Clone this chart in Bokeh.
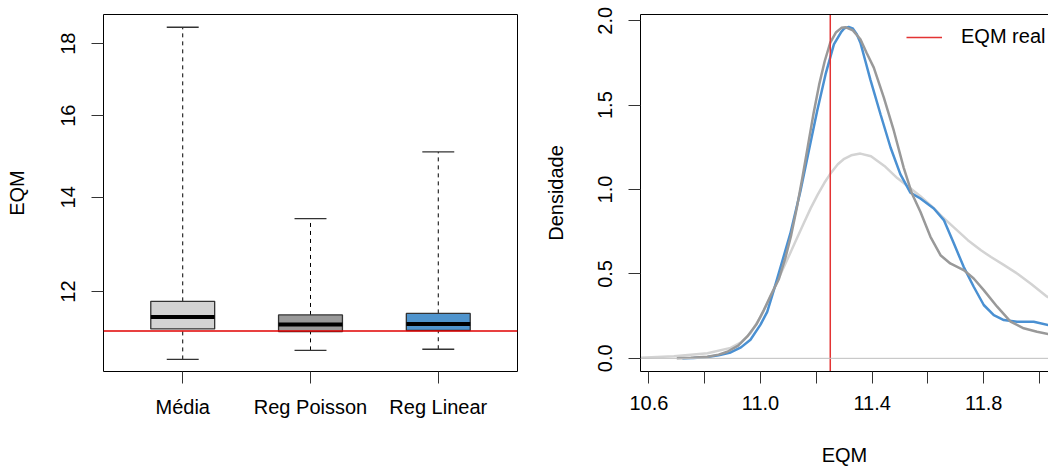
from bokeh.plotting import figure
from bokeh.layouts import row
from bokeh.models import (ColumnDataSource, FixedTicker, Span, LinearAxis, Legend,
                          LegendItem, Range1d, NumeralTickFormatter)
from bokeh.embed import file_html
from bokeh.resources import INLINE

# ---------------- data ----------------
categories = ["Média", "Reg Poisson", "Reg Linear"]
box_colors = ["#D3D3D3", "#9A9A9A", "#4F94CD"]
whisker_low = [10.74, 10.90, 10.92]
q1 = [11.29, 11.24, 11.26]
median = [11.51, 11.37, 11.38]
q3 = [11.81, 11.55, 11.58]
whisker_high = [18.49, 13.52, 15.08]
eqm_real = 11.25

left_yticks = [12, 14, 16, 18]
right_xticks = [10.6, 10.8, 11.0, 11.2, 11.4, 11.6, 11.8, 12.0]
right_xlabels = ["10.6", "", "11.0", "", "11.4", "", "11.8", ""]
right_yticks = [0, 0.5, 1, 1.5, 2]

dens_media_x = [10.45, 10.57, 10.69, 10.81, 10.893, 10.93, 10.964, 11.0, 11.024, 11.062,
                11.096, 11.122, 11.155, 11.18, 11.205, 11.229, 11.253, 11.277, 11.30, 11.325,
                11.358, 11.396, 11.444, 11.49, 11.528, 11.573, 11.621, 11.647, 11.69, 11.743,
                11.79, 11.826, 11.87, 11.922, 11.97, 12.027, 12.08]
dens_media_y = [0.001, 0.004, 0.012, 0.03, 0.062, 0.095, 0.148, 0.245, 0.325, 0.463,
                0.585, 0.68, 0.80, 0.89, 0.97, 1.04, 1.10, 1.15, 1.182, 1.203,
                1.213, 1.197, 1.14, 1.068, 1.02, 0.96, 0.89, 0.845, 0.78, 0.70,
                0.64, 0.60, 0.555, 0.50, 0.44, 0.365, 0.32]

dens_linear_x = [10.72, 10.76, 10.81, 10.85, 10.893, 10.93, 10.964, 11.0, 11.024, 11.047,
                 11.07, 11.107, 11.143, 11.173, 11.203, 11.233, 11.263, 11.29, 11.30, 11.316,
                 11.33, 11.345, 11.358, 11.376, 11.394, 11.43, 11.466, 11.501, 11.537, 11.573,
                 11.621, 11.657, 11.693, 11.728, 11.764, 11.80, 11.836, 11.872, 11.919, 11.979,
                 12.032, 12.08]
dens_linear_y = [0.0, 0.002, 0.008, 0.018, 0.035, 0.065, 0.11, 0.2, 0.275, 0.40,
                 0.53, 0.74, 0.99, 1.229, 1.465, 1.682, 1.86, 1.935, 1.955, 1.963,
                 1.955, 1.92, 1.87, 1.76, 1.65, 1.446, 1.249, 1.091, 0.982, 0.947,
                 0.888, 0.819, 0.68, 0.542, 0.424, 0.316, 0.256, 0.227, 0.217, 0.217,
                 0.197, 0.18]

dens_poisson_x = [10.70, 10.75, 10.81, 10.85, 10.881, 10.92, 10.952, 10.985, 11.012, 11.036,
                  11.066, 11.09, 11.11, 11.13, 11.15, 11.17, 11.19, 11.21, 11.23, 11.25,
                  11.27, 11.29, 11.304, 11.331, 11.358, 11.38, 11.406, 11.442, 11.478, 11.513,
                  11.543, 11.573, 11.609, 11.645, 11.68, 11.728, 11.764, 11.80, 11.848, 11.896,
                  11.943, 11.991, 12.032, 12.08]
dens_poisson_y = [0.0, 0.003, 0.01, 0.022, 0.039, 0.075, 0.128, 0.2, 0.286, 0.37,
                  0.47, 0.60, 0.73, 0.89, 1.07, 1.26, 1.45, 1.62, 1.76, 1.87,
                  1.93, 1.958, 1.962, 1.943, 1.89, 1.81, 1.722, 1.544, 1.347, 1.13,
                  0.975, 0.868, 0.72, 0.611, 0.562, 0.523, 0.473, 0.404, 0.306, 0.217,
                  0.178, 0.158, 0.144, 0.13]

FONT = "Liberation Sans"
FS = "20px"
RED_L = "#E00000"
RED_R = "#E33333"

# ---------------- left: boxplot ----------------
positions = [1, 2, 3]
box_w = 0.5
cap_w = 0.25
src = ColumnDataSource(dict(
    x=positions, q1=q1, q3=q3, med=median, lo=whisker_low, hi=whisker_high, color=box_colors,
    bx0=[x - box_w / 2 for x in positions], bx1=[x + box_w / 2 for x in positions],
    cx0=[x - cap_w / 2 for x in positions], cx1=[x + cap_w / 2 for x in positions],
))

p1 = figure(width=524, height=468, x_range=Range1d(0.38, 3.62), y_range=Range1d(10.53, 18.88),
            y_axis_type="log", output_backend="svg", toolbar_location=None,
            min_border_left=103, min_border_right=7, min_border_top=14, min_border_bottom=97)
p1.grid.visible = False
p1.outline_line_color = "black"
p1.outline_line_width = 1
p1.background_fill_color = "white"
p1.border_fill_color = "white"

p1.segment(x0="x", y0="q3", x1="x", y1="hi", source=src, line_color="black", line_width=1, line_dash="4 4")
p1.segment(x0="x", y0="lo", x1="x", y1="q1", source=src, line_color="black", line_width=1, line_dash="4 4")
p1.segment(x0="cx0", y0="hi", x1="cx1", y1="hi", source=src, line_color="#333333", line_width=1.3)
p1.segment(x0="cx0", y0="lo", x1="cx1", y1="lo", source=src, line_color="#333333", line_width=1.3)
p1.quad(left="bx0", right="bx1", bottom="q1", top="q3", source=src, fill_color="color",
        line_color="#333333", line_width=1.3)
p1.segment(x0="bx0", y0="med", x1="bx1", y1="med", source=src, line_color="black", line_width=4,
           line_cap="butt")
p1.add_layout(Span(location=eqm_real, dimension="width", line_color=RED_L, line_width=1.5))

xa = p1.xaxis[0]
xa.ticker = FixedTicker(ticks=positions)
xa.major_label_overrides = {p: c for p, c in zip(positions, categories)}
ya = p1.yaxis[0]
ya.ticker = FixedTicker(ticks=left_yticks)
ya.major_label_overrides = {t: str(t) for t in left_yticks}
ya.axis_label = "EQM"
ya.axis_label_standoff = 31
ya.major_label_orientation = "vertical"
ya.major_label_standoff = 16
xa.major_label_standoff = 12
for ax in (xa, ya):
    ax.axis_line_color = None
    ax.major_tick_out = 12
    ax.major_tick_in = 0
    ax.major_tick_line_color = "#333333"
    ax.minor_tick_line_color = None
    ax.major_label_text_font = FONT
    ax.major_label_text_font_size = FS
    ax.major_label_text_color = "black"
    ax.axis_label_text_font = FONT
    ax.axis_label_text_font_size = FS
    ax.axis_label_text_font_style = "normal"
    ax.axis_label_text_color = "black"

# ---------------- right: densities ----------------
y_lo, y_hi = -0.078, 2.037
p2 = figure(width=524, height=468, x_range=Range1d(10.570, 12.032), y_range=Range1d(y_lo, y_hi),
            output_backend="svg", toolbar_location=None,
            min_border_left=116, min_border_right=0, min_border_top=14, min_border_bottom=97)
p2.grid.visible = False
p2.outline_line_color = None
p2.background_fill_color = "white"
p2.border_fill_color = "white"

p2.add_layout(Span(location=0, dimension="width", line_color="#BEBEBE", line_width=1))
p2.line(dens_media_x, dens_media_y, line_color="#D3D3D3", line_width=2.5)
p2.line(dens_linear_x, dens_linear_y, line_color="#4A90D2", line_width=2.5)
p2.line(dens_poisson_x, dens_poisson_y, line_color="#999999", line_width=2.5)
vline = p2.segment(x0=[eqm_real], x1=[eqm_real], y0=[y_lo], y1=[y_hi],
                   line_color=RED_R, line_width=1.5)

legend = Legend(items=[LegendItem(label="EQM real", renderers=[vline])],
                location=(266, 323), glyph_width=36, label_standoff=19, padding=0, margin=0,
                border_line_color=None, background_fill_alpha=0,
                label_text_font=FONT, label_text_font_size=FS, label_text_color="black")
p2.add_layout(legend)

xb = p2.xaxis[0]
xb.ticker = FixedTicker(ticks=right_xticks)
xb.major_label_overrides = {t: l for t, l in zip(right_xticks, right_xlabels)}
xb.major_label_standoff = 12
xb.axis_label = "EQM"
xb.axis_label_standoff = 31
yb = p2.yaxis[0]
yb.ticker = FixedTicker(ticks=right_yticks)
yb.formatter = NumeralTickFormatter(format="0.0")
yb.axis_label = "Densidade"
yb.axis_label_standoff = 29
yb.major_label_orientation = "vertical"
yb.major_label_standoff = 16
for ax in (xb, yb):
    ax.axis_line_color = "black"
    ax.axis_line_width = 1
    ax.major_tick_out = 12
    ax.major_tick_in = 0
    ax.major_tick_line_color = "#333333"
    ax.minor_tick_line_color = None
    ax.major_label_text_font = FONT
    ax.major_label_text_font_size = FS
    ax.major_label_text_color = "black"
    ax.axis_label_text_font = FONT
    ax.axis_label_text_font_size = FS
    ax.axis_label_text_font_style = "normal"
    ax.axis_label_text_color = "black"

top_ax = LinearAxis(ticker=FixedTicker(ticks=[]), axis_line_color="black", axis_line_width=1,
                    major_tick_line_color=None, minor_tick_line_color=None,
                    major_label_text_font_size="0px")
p2.add_layout(top_ax, "above")

layout = row(p1, p2, spacing=0)
open("out.html", "w").write(file_html(layout, INLINE))
